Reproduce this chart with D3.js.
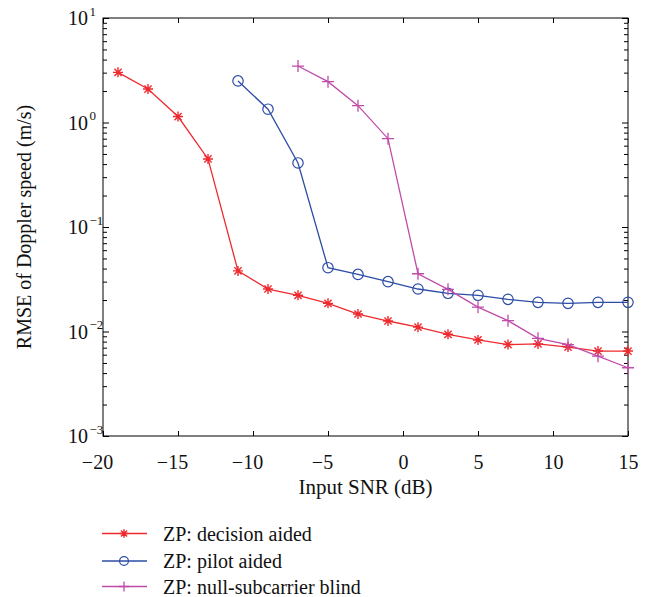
<!DOCTYPE html>
<html><head><meta charset="utf-8">
<script src="https://cdn.jsdelivr.net/npm/d3@7"></script>
<style>body{margin:0;background:#fff}svg{display:block}text{font-family:"Liberation Serif","DejaVu Serif",serif;fill:#111}</style>
</head><body>
<script>
const snrDecision = [-19,-17,-15,-13,-11,-9,-7,-5,-3,-1,1,3,5,7,9,11,13,15];
const rmseDecision = [3.02,2.09,1.14,0.448,0.038,0.0255,0.0222,0.0186,0.0147,0.0126,0.011,0.0094,0.0083,0.0075,0.0076,0.0071,0.0065,0.0065];
const snrPilot = [-11,-9,-7,-5,-3,-1,1,3,5,7,9,11,13,15];
const rmsePilot = [2.5,1.34,0.41,0.0408,0.0352,0.030,0.0255,0.0232,0.0222,0.0203,0.019,0.0186,0.019,0.019];
const snrBlind = [-7,-5,-3,-1,1,3,5,7,9,11,13,15];
const rmseBlind = [3.47,2.46,1.45,0.70,0.0357,0.0253,0.0171,0.0127,0.0086,0.0075,0.0058,0.0045];
const xTicks = [-20,-15,-10,-5,0,5,10,15];
const yExponents = [1,0,-1,-2,-3];
const legendLabels = ["ZP: decision aided","ZP: pilot aided","ZP: null-subcarrier blind"];
const colors = ["#ee2a2e","#2c4ca6","#c04caa"];

const W=651,H=597;
const L=103,R=628,T=18,B=436;
const svg=d3.select("body").append("svg").attr("width",W).attr("height",H);
const x=d3.scaleLinear().domain([-20,15]).range([L,R]);
const y=d3.scaleLog().domain([1e-3,1e1]).range([B,T]);

// frame
svg.append("rect").attr("x",L).attr("y",T).attr("width",R-L).attr("height",B-T)
  .attr("fill","none").attr("stroke","#000").attr("stroke-width",1);

// x ticks (inside bottom and top)
const xb=d3.axisBottom(x).tickValues(xTicks).tickSize(-5).tickFormat(d=>d<0?"\u2212"+Math.abs(d):d).tickPadding(0);
const gx=svg.append("g").attr("transform",`translate(0,${B})`).call(xb);
gx.select(".domain").remove();
gx.selectAll("text").attr("font-size",20).attr("fill","#111").attr("dy",0).attr("y",33).attr("dx",d=>d<0?"-0.3em":0);
const gxt=svg.append("g").attr("transform",`translate(0,${T})`).call(d3.axisTop(x).tickValues(xTicks).tickSize(-5).tickFormat(""));
gxt.select(".domain").remove();

// y ticks: minor ticks every decade, inside left and right
const minor=[];
for(let e=-3;e<1;e++){for(let k=2;k<10;k++)minor.push(k*Math.pow(10,e));}
const majors=yExponents.map(e=>Math.pow(10,e));
const gyl=svg.append("g").attr("transform",`translate(${L},0)`);
gyl.call(d3.axisLeft(y).tickValues(minor).tickSize(-4).tickFormat("")).select(".domain").remove();
const gyl2=svg.append("g").attr("transform",`translate(${L},0)`);
gyl2.call(d3.axisLeft(y).tickValues(majors).tickSize(-6).tickFormat("")).select(".domain").remove();
const gyr=svg.append("g").attr("transform",`translate(${R},0)`);
gyr.call(d3.axisRight(y).tickValues(minor).tickSize(-4).tickFormat("")).select(".domain").remove();
const gyr2=svg.append("g").attr("transform",`translate(${R},0)`);
gyr2.call(d3.axisRight(y).tickValues(majors).tickSize(-6).tickFormat("")).select(".domain").remove();
svg.selectAll(".tick line").attr("stroke","#000");

// y labels 10^e
yExponents.forEach(e=>{
  svg.append("text").attr("x",88).attr("y",y(Math.pow(10,e))+7).attr("text-anchor","end").attr("font-size",20).text("10");
  svg.append("text").attr("x",89.5).attr("y",y(Math.pow(10,e))-2.5).attr("font-size",13)
    .text(e<0?"\u2212"+Math.abs(e):String(e));
});

// axis titles
svg.append("text").attr("x",(L+R)/2).attr("y",494).attr("text-anchor","middle").attr("font-size",21).text("Input SNR (dB)");
svg.append("text").attr("transform",`translate(31,${(T+B)/2}) rotate(-90)`).attr("text-anchor","middle").attr("font-size",20).text("RMSE of Doppler speed (m/s)");

const series=[
  {xs:snrDecision,ys:rmseDecision,c:colors[0],m:"star"},
  {xs:snrPilot,ys:rmsePilot,c:colors[1],m:"circle"},
  {xs:snrBlind,ys:rmseBlind,c:colors[2],m:"plus"}
];
const line=d3.line().x(d=>x(d[0])).y(d=>y(d[1]));
function marker(g,cx,cy,m,c,k){
  k=k||1;
  if(m==="circle"){
    g.append("circle").attr("cx",cx).attr("cy",cy).attr("r",5.2*k).attr("fill","none").attr("stroke",c).attr("stroke-width",1.2);
  } else if(m==="plus"){
    const s=6*k;
    g.append("path").attr("d",`M${cx-s},${cy}H${cx+s}M${cx},${cy-s}V${cy+s}`).attr("stroke",c).attr("stroke-width",1.3);
  } else {
    const s=5*k,d=3.6*k;
    g.append("path").attr("d",`M${cx-s},${cy}H${cx+s}M${cx},${cy-s}V${cy+s}M${cx-d},${cy-d}L${cx+d},${cy+d}M${cx-d},${cy+d}L${cx+d},${cy-d}`).attr("stroke",c).attr("stroke-width",1.4);
  }
}
series.forEach(s=>{
  const pts=s.xs.map((v,i)=>[v,s.ys[i]]);
  svg.append("path").attr("d",line(pts)).attr("fill","none").attr("stroke",s.c).attr("stroke-width",1.3);
  const g=svg.append("g");
  pts.forEach(p=>marker(g,x(p[0]),y(p[1]),s.m,s.c));
});

// legend
const ly=[533.5,561,586.5];
series.forEach((s,i)=>{
  svg.append("line").attr("x1",102).attr("x2",147).attr("y1",ly[i]).attr("y2",ly[i]).attr("stroke",s.c).attr("stroke-width",1.3);
  marker(svg,124,ly[i],s.m,s.c,0.85);
  svg.append("text").attr("x",163).attr("y",ly[i]+7).attr("font-size",20).text(legendLabels[i]);
});
</script>
</body></html>
